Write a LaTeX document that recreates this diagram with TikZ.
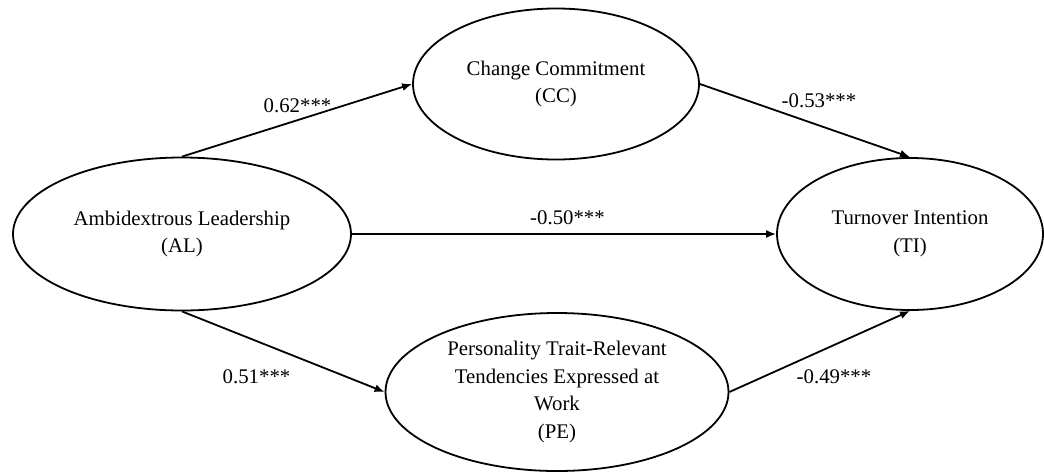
\documentclass[tikz,border=0pt]{standalone}
\usepackage{fontspec}
\setmainfont{Liberation Serif}
\usetikzlibrary{shapes.geometric,arrows.meta}
\begin{document}
\begin{tikzpicture}[x=0.5pt,y=-0.5pt,
  construct/.style={ellipse,draw,line width=0.9pt,inner sep=0pt,align=center,
    font=\fontsize{10.4}{13.8}\selectfont},
  path/.style={line width=0.9pt,-{Latex[length=5pt,width=4pt]}},
  coef/.style={anchor=base,inner sep=0pt,font=\fontsize{10.4}{12}\selectfont}]
\useasboundingbox (0,0) rectangle (1044,472);
\node[construct,minimum width=169pt,minimum height=76.5pt] (AL) at (182,234) {Ambidextrous Leadership\\(AL)};
\node[construct,minimum width=143pt,minimum height=75.5pt] (CC) at (556,84) {Change Commitment\\(CC)};
\node[construct,minimum width=133pt,minimum height=76pt] (TI) at (910,234) {Turnover Intention\\(TI)};
\node[construct,minimum width=171.5pt,minimum height=79pt] (PE) at (557,392) {Personality Trait-Relevant\\Tendencies Expressed at\\Work\\(PE)};
\draw[path] (AL.north) -- (CC.west);
\draw[path] (CC.east) -- (TI.north);
\draw[path] (AL.east) -- (TI.west);
\draw[path] (AL.south) -- (PE.west);
\draw[path] (PE.east) -- (TI.south);
\node[coef] (c1) at (297.5,112) {0.62***};
\node[coef] (c2) at (819,107) {-0.53***};
\node[coef] (c3) at (567.5,224) {-0.50***};
\node[coef] (c4) at (256.5,383) {0.51***};
\node[coef] (c5) at (834,383) {-0.49***};
\end{tikzpicture}
\end{document}
